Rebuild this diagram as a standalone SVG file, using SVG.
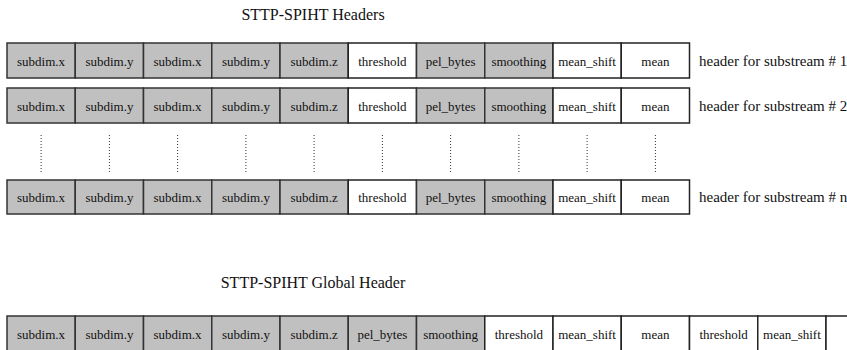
<svg xmlns="http://www.w3.org/2000/svg" width="847" height="350" viewBox="0 0 847 350">
<style>
text{font-family:"Liberation Serif","Times New Roman",serif;fill:#111}
.c{font-size:13px;text-anchor:middle}
.t{font-size:16px;text-anchor:middle}
.l{font-size:15px}
.g{fill:#c0c0c0;stroke:#333;stroke-width:1.5}
.w{fill:#fff;stroke:#222;stroke-width:1.5}
.d{stroke:#333;stroke-width:1;stroke-dasharray:1 2;fill:none}
</style>
<rect width="847" height="350" fill="#fff"/>
<text class="t" x="313" y="20">STTP-SPIHT Headers</text>
<g id="row1">
<rect class="g" x="7" y="43" width="68.25" height="35"/><text class="c" x="41.1" y="66">subdim.x</text>
<rect class="g" x="75.25" y="43" width="68.25" height="35"/><text class="c" x="109.4" y="66">subdim.y</text>
<rect class="g" x="143.5" y="43" width="68.25" height="35"/><text class="c" x="177.6" y="66">subdim.x</text>
<rect class="g" x="211.75" y="43" width="68.25" height="35"/><text class="c" x="245.9" y="66">subdim.y</text>
<rect class="g" x="280" y="43" width="68.25" height="35"/><text class="c" x="314.1" y="66">subdim.z</text>
<rect class="w" x="348.25" y="43" width="68.25" height="35"/><text class="c" x="382.4" y="66">threshold</text>
<rect class="g" x="416.5" y="43" width="68.25" height="35"/><text class="c" x="450.6" y="66">pel_bytes</text>
<rect class="g" x="484.75" y="43" width="68.25" height="35"/><text class="c" x="518.9" y="66">smoothing</text>
<rect class="w" x="553" y="43" width="68.25" height="35"/><text class="c" x="587.1" y="66">mean_shift</text>
<rect class="w" x="621.25" y="43" width="68.25" height="35"/><text class="c" x="655.4" y="66">mean</text>
<text class="l" x="699" y="66">header for substream # 1</text>
</g>
<g id="row2">
<rect class="g" x="7" y="88" width="68.25" height="35"/><text class="c" x="41.1" y="111">subdim.x</text>
<rect class="g" x="75.25" y="88" width="68.25" height="35"/><text class="c" x="109.4" y="111">subdim.y</text>
<rect class="g" x="143.5" y="88" width="68.25" height="35"/><text class="c" x="177.6" y="111">subdim.x</text>
<rect class="g" x="211.75" y="88" width="68.25" height="35"/><text class="c" x="245.9" y="111">subdim.y</text>
<rect class="g" x="280" y="88" width="68.25" height="35"/><text class="c" x="314.1" y="111">subdim.z</text>
<rect class="w" x="348.25" y="88" width="68.25" height="35"/><text class="c" x="382.4" y="111">threshold</text>
<rect class="g" x="416.5" y="88" width="68.25" height="35"/><text class="c" x="450.6" y="111">pel_bytes</text>
<rect class="g" x="484.75" y="88" width="68.25" height="35"/><text class="c" x="518.9" y="111">smoothing</text>
<rect class="w" x="553" y="88" width="68.25" height="35"/><text class="c" x="587.1" y="111">mean_shift</text>
<rect class="w" x="621.25" y="88" width="68.25" height="35"/><text class="c" x="655.4" y="111">mean</text>
<text class="l" x="699" y="111">header for substream # 2</text>
</g>
<g id="dots">
<path class="d" d="M41.1 135V174M109.4 135V174M177.6 135V174M245.9 135V174M314.1 135V174M382.4 135V174M450.6 135V174M518.9 135V174M587.1 135V174M655.4 135V174"/>
</g>
<g id="rown">
<rect class="g" x="7" y="180" width="68.25" height="34"/><text class="c" x="41.1" y="202">subdim.x</text>
<rect class="g" x="75.25" y="180" width="68.25" height="34"/><text class="c" x="109.4" y="202">subdim.y</text>
<rect class="g" x="143.5" y="180" width="68.25" height="34"/><text class="c" x="177.6" y="202">subdim.x</text>
<rect class="g" x="211.75" y="180" width="68.25" height="34"/><text class="c" x="245.9" y="202">subdim.y</text>
<rect class="g" x="280" y="180" width="68.25" height="34"/><text class="c" x="314.1" y="202">subdim.z</text>
<rect class="w" x="348.25" y="180" width="68.25" height="34"/><text class="c" x="382.4" y="202">threshold</text>
<rect class="g" x="416.5" y="180" width="68.25" height="34"/><text class="c" x="450.6" y="202">pel_bytes</text>
<rect class="g" x="484.75" y="180" width="68.25" height="34"/><text class="c" x="518.9" y="202">smoothing</text>
<rect class="w" x="553" y="180" width="68.25" height="34"/><text class="c" x="587.1" y="202">mean_shift</text>
<rect class="w" x="621.25" y="180" width="68.25" height="34"/><text class="c" x="655.4" y="202">mean</text>
<text class="l" x="699" y="202">header for substream # n</text>
</g>
<text class="t" x="313" y="288">STTP-SPIHT Global Header</text>
<g id="global">
<rect class="g" x="7" y="316" width="68.25" height="40"/><text class="c" x="41.1" y="339">subdim.x</text>
<rect class="g" x="75.25" y="316" width="68.25" height="40"/><text class="c" x="109.4" y="339">subdim.y</text>
<rect class="g" x="143.5" y="316" width="68.25" height="40"/><text class="c" x="177.6" y="339">subdim.x</text>
<rect class="g" x="211.75" y="316" width="68.25" height="40"/><text class="c" x="245.9" y="339">subdim.y</text>
<rect class="g" x="280" y="316" width="68.25" height="40"/><text class="c" x="314.1" y="339">subdim.z</text>
<rect class="g" x="348.25" y="316" width="68.25" height="40"/><text class="c" x="382.4" y="339">pel_bytes</text>
<rect class="g" x="416.5" y="316" width="68.25" height="40"/><text class="c" x="450.6" y="339">smoothing</text>
<rect class="w" x="484.75" y="316" width="68.25" height="40"/><text class="c" x="518.9" y="339">threshold</text>
<rect class="w" x="553" y="316" width="68.25" height="40"/><text class="c" x="587.1" y="339">mean_shift</text>
<rect class="w" x="621.25" y="316" width="68.25" height="40"/><text class="c" x="655.4" y="339">mean</text>
<rect class="w" x="689.5" y="316" width="68.25" height="40"/><text class="c" x="723.6" y="339">threshold</text>
<rect class="w" x="757.75" y="316" width="68.25" height="40"/><text class="c" x="791.9" y="339">mean_shift</text>
<rect class="w" x="826" y="316" width="68.25" height="40"/>
</g>
</svg>
